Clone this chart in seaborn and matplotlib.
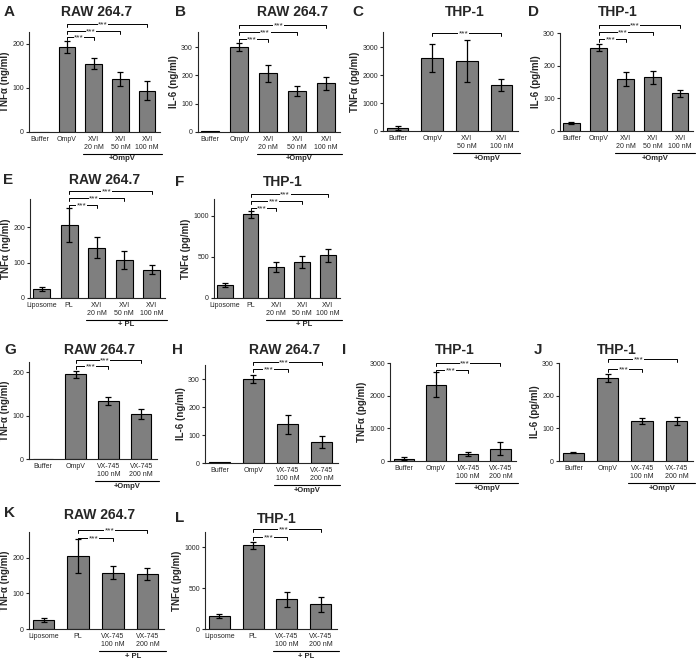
import matplotlib
matplotlib.use("Agg")
import matplotlib.pyplot as plt
import seaborn as sns
import pandas as pd
from matplotlib.transforms import blended_transform_factory

sns.set_theme(style="ticks")
plt.rcParams['font.family'] = ['Liberation Sans', 'DejaVu Sans']
plt.rcParams['axes.linewidth'] = 0.8
plt.rcParams['xtick.major.width'] = 0.8
plt.rcParams['ytick.major.width'] = 0.8
plt.rcParams['xtick.major.size'] = 0
plt.rcParams['ytick.major.size'] = 2.2

# ---------------- data ----------------
cats_A = ["Buffer", "OmpV", "XVI\n20 nM", "XVI\n50 nM", "XVI\n100 nM"]
vals_A = [0, 193, 155, 120, 94]
err_A = [0, 13, 12, 16, 22]

cats_B = ["Buffer", "OmpV", "XVI\n20 nM", "XVI\n50 nM", "XVI\n100 nM"]
vals_B = [2, 300, 208, 145, 172]
err_B = [0, 13, 30, 18, 22]

cats_C = ["Buffer", "OmpV", "XVI\n50 nM", "XVI\n100 nM"]
vals_C = [110, 2600, 2500, 1640]
err_C = [60, 500, 750, 200]

cats_D = ["Buffer", "OmpV", "XVI\n20 nM", "XVI\n50 nM", "XVI\n100 nM"]
vals_D = [25, 255, 160, 165, 115]
err_D = [3, 10, 22, 20, 10]

cats_E = ["Liposome", "PL", "XVI\n20 nM", "XVI\n50 nM", "XVI\n100 nM"]
vals_E = [25, 205, 142, 107, 80]
err_E = [6, 48, 30, 25, 13]

cats_F = ["Liposome", "PL", "XVI\n20 nM", "XVI\n50 nM", "XVI\n100 nM"]
vals_F = [160, 1020, 380, 440, 520]
err_F = [20, 40, 65, 70, 75]

cats_G = ["Buffer", "OmpV", "VX-745\n100 nM", "VX-745\n200 nM"]
vals_G = [0, 195, 134, 103]
err_G = [0, 8, 9, 11]

cats_H = ["Buffer", "OmpV", "VX-745\n100 nM", "VX-745\n200 nM"]
vals_H = [2, 300, 138, 75]
err_H = [0, 14, 33, 22]

cats_I = ["Buffer", "OmpV", "VX-745\n100 nM", "VX-745\n200 nM"]
vals_I = [70, 2340, 220, 380]
err_I = [40, 370, 60, 200]

cats_J = ["Buffer", "OmpV", "VX-745\n100 nM", "VX-745\n200 nM"]
vals_J = [25, 255, 122, 122]
err_J = [2, 12, 10, 13]

cats_K = ["Liposome", "PL", "VX-745\n100 nM", "VX-745\n200 nM"]
vals_K = [26, 205, 158, 156]
err_K = [6, 48, 18, 17]

cats_L = ["Liposome", "PL", "VX-745\n100 nM", "VX-745\n200 nM"]
vals_L = [160, 1020, 360, 300]
err_L = [20, 40, 90, 95]

W, H = 696, 659
fig = plt.figure(figsize=(6.96, 6.59), dpi=100)
fig.patch.set_facecolor('white')

panels = [
    dict(letter="A", title="RAW 264.7", ylabel="TNF\u03b1 (ng/ml)", cats=cats_A, vals=vals_A, err=err_A,
         rect=(29, 160, 32, 132), ytop=227, yticks=[0, 100, 200], group="+OmpV",
         br=[(1, 2, 216), (1, 3, 230), (1, 4, 245)], lpos=(4, 12), tpos=(97, 12)),
    dict(letter="B", title="RAW 264.7", ylabel="IL-6 (ng/ml)", cats=cats_B, vals=vals_B, err=err_B,
         rect=(198, 340, 32, 132), ytop=353, yticks=[0, 100, 200, 300], group="+OmpV",
         br=[(1, 2, 328), (1, 3, 353), (1, 4, 378)], lpos=(175, 12), tpos=(293, 12)),
    dict(letter="C", title="THP-1", ylabel="TNF\u03b1 (pg/ml)", cats=cats_C, vals=vals_C, err=err_C,
         rect=(383, 518, 32, 131), ytop=3536, yticks=[0, 1000, 2000, 3000], group="+OmpV",
         br=[(1, 3, 3500)], lpos=(352, 12), tpos=(465, 12)),
    dict(letter="D", title="THP-1", ylabel="IL-6 (pg/ml)", cats=cats_D, vals=vals_D, err=err_D,
         rect=(560, 693, 33, 131), ytop=300, yticks=[0, 100, 200, 300], group="+OmpV",
         br=[(1, 2, 282), (1, 3, 303), (1, 4, 324)], lpos=(528, 12), tpos=(618, 12)),
    dict(letter="E", title="RAW 264.7", ylabel="TNF\u03b1 (ng/ml)", cats=cats_E, vals=vals_E, err=err_E,
         rect=(30, 165, 199, 298), ytop=279, yticks=[0, 100, 200], group="+ PL",
         br=[(1, 2, 262), (1, 3, 281), (1, 4, 301)], lpos=(3, 180), tpos=(105, 180)),
    dict(letter="F", title="THP-1", ylabel="TNF\u03b1 (pg/ml)", cats=cats_F, vals=vals_F, err=err_F,
         rect=(214, 340, 199, 298), ytop=1207, yticks=[0, 500, 1000], group="+ PL",
         br=[(1, 2, 1098), (1, 3, 1183), (1, 4, 1268)], lpos=(175, 182), tpos=(283, 182)),
    dict(letter="G", title="RAW 264.7", ylabel="TNF\u03b1 (ng/ml)", cats=cats_G, vals=vals_G, err=err_G,
         rect=(29, 157, 362, 459), ytop=223, yticks=[0, 100, 200], group="+OmpV",
         br=[(1, 2, 214), (1, 3, 228)], lpos=(4, 350), tpos=(100, 350)),
    dict(letter="H", title="RAW 264.7", ylabel="IL-6 (ng/ml)", cats=cats_H, vals=vals_H, err=err_H,
         rect=(205, 338, 365, 463), ytop=350, yticks=[0, 100, 200, 300], group="+OmpV",
         br=[(1, 2, 336), (1, 3, 361)], lpos=(172, 350), tpos=(285, 350)),
    dict(letter="I", title="THP-1", ylabel="TNF\u03b1 (pg/ml)", cats=cats_I, vals=vals_I, err=err_I,
         rect=(390, 516, 363, 461), ytop=3000, yticks=[0, 1000, 2000, 3000], group="+OmpV",
         br=[(1, 2, 2785), (1, 3, 3000)], lpos=(342, 350), tpos=(455, 350)),
    dict(letter="J", title="THP-1", ylabel="IL-6 (pg/ml)", cats=cats_J, vals=vals_J, err=err_J,
         rect=(559, 693, 363, 461), ytop=300, yticks=[0, 100, 200, 300], group="+OmpV",
         br=[(1, 2, 281), (1, 3, 312)], lpos=(534, 350), tpos=(617, 350)),
    dict(letter="K", title="RAW 264.7", ylabel="TNF\u03b1 (ng/ml)", cats=cats_K, vals=vals_K, err=err_K,
         rect=(29, 164, 532, 629), ytop=273, yticks=[0, 100, 200], group="+ PL",
         br=[(1, 2, 256), (1, 3, 279)], lpos=(4, 513), tpos=(100, 515)),
    dict(letter="L", title="THP-1", ylabel="TNF\u03b1 (pg/ml)", cats=cats_L, vals=vals_L, err=err_L,
         rect=(205, 337, 532, 629), ytop=1183, yticks=[0, 500, 1000], group="+ PL",
         br=[(1, 2, 1122), (1, 3, 1220)], lpos=(175, 518), tpos=(277, 519)),
]

for p in panels:
    l, r, t, b = p['rect']
    wpx, hpx = r - l, b - t
    ax = fig.add_axes([l / W, 1 - b / H, wpx / W, hpx / H])
    n = len(p['cats'])
    df = pd.DataFrame({'cat': p['cats'], 'val': p['vals']})
    sns.barplot(data=df, x='cat', y='val', order=p['cats'], color='#7f7f7f', saturation=1,
                edgecolor='black', linewidth=0.8, width=0.62, ax=ax, errorbar=None)
    xs = [i for i in range(n) if p['err'][i] > 0]
    ax.errorbar(xs, [p['vals'][i] for i in xs], yerr=[p['err'][i] for i in xs], fmt='none',
                ecolor='black', elinewidth=0.9, capsize=2.2, capthick=0.9, zorder=5)
    ax.set_xlim(-0.42, n - 0.52)
    ax.set_ylim(0, p['ytop'])
    ax.set_yticks(p['yticks'])
    ax.set_xlabel("")
    ax.set_ylabel(p['ylabel'], fontsize=7, fontweight='bold', labelpad=1.5)
    ax.tick_params(axis='x', labelsize=5, pad=3)
    ax.tick_params(axis='y', labelsize=5, pad=1.5)
    for lab in ax.get_xticklabels():
        lab.set_linespacing(1.2)
    sns.despine(ax=ax)
    ax.set_facecolor('none')
    # significance brackets
    tick = p['ytop'] * 0.03
    for (i, j, y) in p['br']:
        ax.plot([i, i, j, j], [y - tick, y, y, y - tick], color='black', lw=0.7, clip_on=False)
        ax.text(i + (j - i) * 0.45, y, '***', ha='center', va='center_baseline', fontsize=6,
                bbox=dict(facecolor='white', edgecolor='none', pad=0.3), clip_on=False, zorder=6)
    # group underline
    trans = blended_transform_factory(ax.transData, ax.transAxes)
    g0, g1 = 1.6, n - 0.45
    ax.plot([g0, g1], [-22 / hpx, -22 / hpx], transform=trans, color='black', lw=0.8, clip_on=False)
    ax.text((g0 + g1) / 2, -23.5 / hpx, p['group'], transform=trans, ha='center', va='top',
            fontsize=5.5, fontweight='bold')
    # panel letter and title
    fig.text(p['lpos'][0] / W, 1 - p['lpos'][1] / H, p['letter'], fontsize=11, fontweight='bold',
             ha='left', va='center')
    fig.text(p['tpos'][0] / W, 1 - p['tpos'][1] / H, p['title'], fontsize=10, fontweight='bold',
             ha='center', va='center')

fig.savefig("out.png", dpi=100, facecolor='white')
